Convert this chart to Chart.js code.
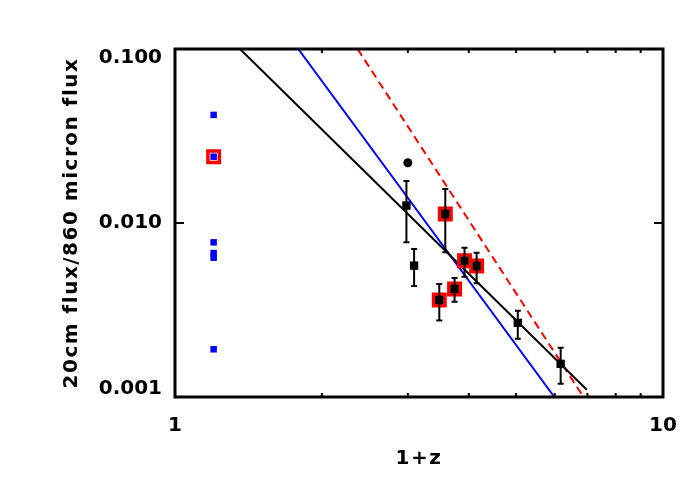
<!DOCTYPE html>
<html><head><meta charset="utf-8">
<script src="https://cdn.jsdelivr.net/npm/chart.js@4"></script>
<style>html,body{margin:0;padding:0;background:#fff}#wrap{width:698px;height:498px}</style>
</head><body><div id="wrap"><canvas id="c" width="698" height="498"></canvas></div>
<script>
// ---- data ----
const xTickValues = [1, 10];
const xTickLabels = ['1', '10'];
const xMinorTicks = [2, 3, 4, 5, 6, 7, 8, 9];
const yTickValues = [0.001, 0.01, 0.1];
const yTickLabels = ['0.001', '0.010', '0.100'];
const xTitle = '1+z';
const yTitle = '20cm flux/860 micron flux';

// blue squares (low redshift group)
const blueX = [1.2, 1.2, 1.2, 1.2, 1.2, 1.2];
const blueY = [0.0418, 0.02405, 0.00774, 0.00672, 0.00632, 0.00188];

// black squares with error bars
const sqX    = [2.98, 3.09, 3.58, 3.48, 3.74, 3.92, 4.15, 5.04, 6.17];
const sqY    = [0.0126, 0.00569, 0.01127, 0.00361, 0.00418, 0.00607, 0.00566, 0.00267, 0.00155];
const sqHigh = [0.01743, 0.0071, 0.01568, 0.00446, 0.00483, 0.00721, 0.00675, 0.00313, 0.00192];
const sqLow  = [0.00774, 0.00435, 0.00679, 0.00275, 0.00353, 0.00491, 0.0045, 0.00216, 0.00119];

// black filled circle
const circX = [3.0];
const circY = [0.0222];

// red open squares (highlighted sources)
const redX = [1.2, 3.58, 3.48, 3.74, 3.92, 4.15];
const redY = [0.02405, 0.01127, 0.00361, 0.00418, 0.00607, 0.00566];

// model lines (end points)
const blackFitX = [1.359, 6.98];
const blackFitY = [0.1, 0.0011];
const blueFitX = [1.789, 5.99];
const blueFitY = [0.1, 0.001];
const redFitX = [2.367, 6.87];
const redFitY = [0.1, 0.001];

const pts = (xs, ys) => xs.map((x, i) => ({x: x, y: ys[i]}));

const framePlugin = {
  id: 'frame',
  beforeDraw(chart) {
    chart.ctx.letterSpacing = '1.5px';
  },
  beforeDatasetsDraw(chart) {
    chart.ctx.letterSpacing = '0px';
  },
  afterDatasetsDraw(chart) {
    const ctx = chart.ctx;
    const xs = chart.scales.x, ys = chart.scales.y;
    const a = chart.chartArea;
    ctx.save();
    // error bars
    ctx.strokeStyle = '#000';
    ctx.lineWidth = 2;
    sqX.forEach((xv, i) => {
      const px = xs.getPixelForValue(xv);
      const p1 = ys.getPixelForValue(sqHigh[i]);
      const p2 = ys.getPixelForValue(sqLow[i]);
      ctx.beginPath();
      ctx.moveTo(px, p1); ctx.lineTo(px, p2);
      ctx.moveTo(px - 3, p1); ctx.lineTo(px + 3, p1);
      ctx.moveTo(px - 3, p2); ctx.lineTo(px + 3, p2);
      ctx.stroke();
    });
    // minor x ticks
    ctx.lineWidth = 2;
    ctx.beginPath();
    xMinorTicks.forEach(v => {
      const px = xs.getPixelForValue(v);
      ctx.moveTo(px, a.bottom); ctx.lineTo(px, a.bottom - 4);
      ctx.moveTo(px, a.top); ctx.lineTo(px, a.top + 4);
    });
    // major y ticks
    yTickValues.forEach(v => {
      const py = ys.getPixelForValue(v);
      ctx.moveTo(a.left, py); ctx.lineTo(a.left + 9, py);
      ctx.moveTo(a.right, py); ctx.lineTo(a.right - 9, py);
    });
    xTickValues.forEach(v => {
      const px = xs.getPixelForValue(v);
      ctx.moveTo(px, a.bottom); ctx.lineTo(px, a.bottom - 9);
      ctx.moveTo(px, a.top); ctx.lineTo(px, a.top + 9);
    });
    ctx.stroke();
    // frame
    ctx.lineWidth = 3;
    ctx.strokeRect(a.left, a.top, a.right - a.left, a.bottom - a.top);
    ctx.restore();
  }
};

Chart.defaults.font.family = "'DejaVu Sans', sans-serif";
Chart.defaults.color = '#000';

// y labels: top label sits just below the tick, bottom label just above it (as in the reference)
const yLabelFor = (i) => {
  const n = yTickLabels.length;
  if (i === n - 1) return ['', yTickLabels[i]];
  if (i === 0) return [yTickLabels[i], ''];
  return yTickLabels[i];
};

new Chart(document.getElementById('c'), {
  type: 'scatter',
  data: {
    datasets: [
      { label: 'circle', data: pts(circX, circY), pointStyle: 'circle', pointRadius: 4.5,
        pointBackgroundColor: '#000', pointBorderWidth: 0 },
      { label: 'squares', data: pts(sqX, sqY), pointStyle: 'rect', pointRadius: 5.9,
        pointBackgroundColor: '#000', pointBorderWidth: 0 },
      { label: 'blue', data: pts(blueX, blueY), pointStyle: 'rect', pointRadius: 4.6,
        pointBackgroundColor: '#0000ff', pointBorderWidth: 0 },
      { label: 'red', data: pts(redX, redY), pointStyle: 'rect', pointRadius: 8.1,
        pointBackgroundColor: 'rgba(0,0,0,0)', pointBorderColor: '#ff0000', pointBorderWidth: 3.5 },
      { label: 'fit black', data: pts(blackFitX, blackFitY), showLine: true, pointRadius: 0,
        borderColor: '#000', borderWidth: 2 },
      { label: 'fit blue', data: pts(blueFitX, blueFitY), showLine: true, pointRadius: 0,
        borderColor: '#0000ff', borderWidth: 2 },
      { label: 'fit red', data: pts(redFitX, redFitY), showLine: true, pointRadius: 0,
        borderColor: '#ff0000', borderWidth: 2, borderDash: [8, 5] }
    ]
  },
  options: {
    responsive: false,
    devicePixelRatio: 1,
    animation: false,
    layout: { padding: { left: 0, top: 49, right: 35, bottom: 0 } },
    plugins: { legend: { display: false }, tooltip: { enabled: false } },
    scales: {
      x: {
        type: 'logarithmic', min: 1, max: 10,
        afterBuildTicks: s => { s.ticks = xTickValues.map(v => ({value: v})); },
        afterFit: s => { s.height = 101; },
        grid: { display: false, drawTicks: false },
        border: { display: false },
        ticks: { z: 1, padding: 17, autoSkip: false, maxRotation: 0,
          font: { size: 20, weight: 'bold' },
          callback: (v, i) => xTickLabels[i] },
        title: { display: true, text: xTitle, font: { size: 20, weight: 'bold' },
          padding: { top: 0, bottom: 27 } }
      },
      y: {
        type: 'logarithmic', min: 0.001, max: 0.1,
        afterBuildTicks: s => { s.ticks = yTickValues.map(v => ({value: v})); },
        afterFit: s => { s.width = 175; },
        grid: { display: false, drawTicks: false },
        border: { display: false },
        ticks: { z: 1, padding: 13, autoSkip: false,
          font: { size: 20, weight: 'bold', lineHeight: 0.85 },
          callback: (v, i) => yLabelFor(i) },
        title: { display: true, text: yTitle, font: { size: 20, weight: 'bold' },
          padding: { top: 60, bottom: 0 } }
      }
    }
  },
  plugins: [framePlugin]
});
</script>
</body></html>
